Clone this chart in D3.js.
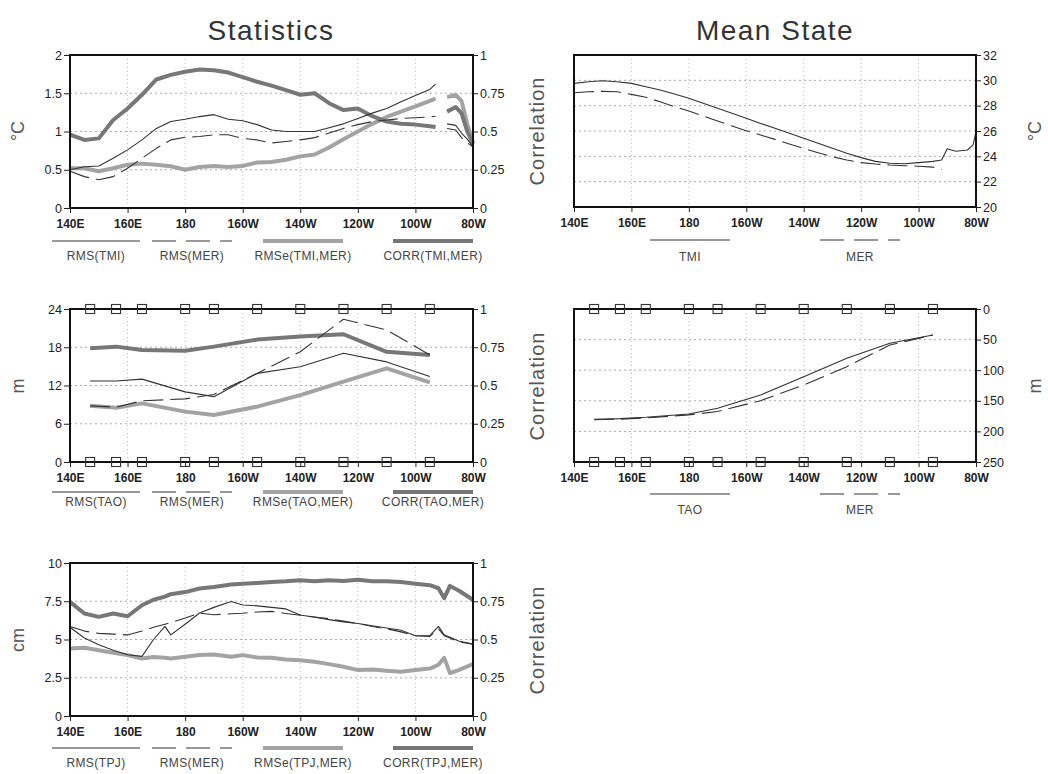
<!DOCTYPE html>
<html>
<head>
<meta charset="utf-8">
<script src="https://cdn.jsdelivr.net/npm/d3@7"></script>
<style>
body { margin: 0; background: #fff; }
text { font-family: "Liberation Sans", Arial, sans-serif; }
</style>
</head>
<body>
<div id="chart"></div>
<script>
// longitude axis (degrees east)
var xTicks = [140, 160, 180, 200, 220, 240, 260, 280];
var xTickLabels = ["140E", "160E", "180", "160W", "140W", "120W", "100W", "80W"];
var corrTicks = [0, 0.25, 0.5, 0.75, 1];
var corrTickLabels = ["0", "0.25", "0.5", "0.75", "1"];

// panel 1: SST statistics (TMI vs MER)
var sstStatTicks = [0, 0.5, 1, 1.5, 2];
var sstStatTickLabels = ["0", "0.5", "1", "1.5", "2"];
var lon1 = [140,145,150,155,160,165,170,175,180,185,190,195,200,205,210,215,220,225,230,235,240,245,250,255,260,265,267,269,271,274,276,278,280];
var rmsTMI  = [0.50,0.54,0.55,0.65,0.76,0.89,1.04,1.13,1.16,1.195,1.22,1.16,1.14,1.09,1.02,1.0,1.0,1.0,1.05,1.1,1.17,1.24,1.3,1.39,1.47,1.55,1.62,null,1.1,1.08,0.98,0.9,0.8];
var rmsMER1 = [0.48,0.41,0.37,0.41,0.52,0.65,0.78,0.89,0.925,0.935,0.957,0.957,0.91,0.89,0.85,0.87,0.89,0.92,0.98,1.04,1.09,1.13,1.15,1.17,1.18,1.19,1.2,null,1.04,1.02,0.92,0.85,0.8];
var rmseTMI = [0.52,0.52,0.48,0.52,0.565,0.58,0.565,0.545,0.50,0.535,0.55,0.535,0.55,0.595,0.6,0.63,0.675,0.7,0.79,0.9,1.0,1.1,1.19,1.26,1.33,1.4,1.43,null,1.45,1.48,1.40,1.1,0.85];
var corrTMI = [0.48,0.445,0.455,0.575,0.65,0.74,0.84,0.87,0.89,0.905,0.90,0.885,0.855,0.825,0.80,0.77,0.74,0.75,0.685,0.64,0.65,0.60,0.565,0.55,0.545,0.535,0.53,null,0.63,0.66,0.62,0.5,0.42];

// panel 2: thermocline depth statistics (TAO vs MER)
var z20StatTicks = [0, 6, 12, 18, 24];
var z20StatTickLabels = ["0", "6", "12", "18", "24"];
var taoLon = [147, 156, 165, 180, 190, 205, 220, 235, 250, 265];
var rmsTAO  = [12.7, 12.7, 13.0, 11.0, 10.25, 13.9, 14.95, 17.05, 15.7, 13.4];
var rmsMER2 = [8.8, 8.6, 9.6, 9.9, 10.6, 13.9, 17.3, 22.4, 20.7, 16.8];
var rmseTAO = [8.84, 8.52, 9.2, 7.9, 7.37, 8.68, 10.5, 12.6, 14.7, 12.5];
var corrTAO = [0.743, 0.754, 0.732, 0.727, 0.754, 0.80, 0.82, 0.835, 0.72, 0.70];

// panel 3: sea level statistics (TPJ vs MER)
var sshStatTicks = [0, 2.5, 5, 7.5, 10];
var sshStatTickLabels = ["0", "2.5", "5", "7.5", "10"];
var lon3 = [140,145,150,155,160,165,169,173,175,180,185,190,196,200,205,210,215,220,225,230,235,240,245,250,255,260,265,268,270,272,275,280];
var rmsTPJ  = [5.8,5.1,4.65,4.3,4.0,3.9,5.0,5.86,5.3,6.0,6.73,7.1,7.49,7.25,7.2,7.1,7.0,6.6,6.45,6.3,6.15,6.05,5.9,5.75,5.6,5.25,5.25,5.86,5.3,5.15,4.9,4.7];
var rmsMER3 = [5.85,5.55,5.4,5.35,5.3,5.55,5.8,6.0,6.1,6.4,6.73,6.62,6.68,6.72,6.8,6.84,6.7,6.58,6.47,6.36,6.2,6.05,5.85,5.7,5.5,5.25,5.2,5.7,5.25,5.1,4.85,4.7];
var rmseTPJ = [4.41,4.46,4.3,4.13,3.98,3.76,3.85,3.8,3.76,3.87,3.98,4.02,3.87,3.98,3.83,3.8,3.7,3.65,3.54,3.39,3.22,3.0,3.04,2.96,2.89,3.0,3.1,3.35,3.8,2.8,3.0,3.4];
var corrTPJ = [0.746,0.67,0.648,0.67,0.652,0.724,0.76,0.78,0.796,0.81,0.833,0.843,0.86,0.865,0.87,0.876,0.88,0.887,0.88,0.887,0.883,0.891,0.88,0.88,0.876,0.865,0.855,0.835,0.77,0.85,0.82,0.76];

// panel 4: mean SST
var sstTicks = [20, 22, 24, 26, 28, 30, 32];
var sstTickLabels = ["20", "22", "24", "26", "28", "30", "32"];
var lonSST = [140,145,150,155,160,165,170,175,180,185,190,195,200,205,210,215,220,225,230,235,240,245,250,255,260,265,268,270,273,277,279,280];
var sstTMI = [29.76,29.89,29.97,29.89,29.76,29.5,29.23,28.92,28.58,28.19,27.79,27.4,27.0,26.6,26.21,25.82,25.42,25.03,24.63,24.24,23.9,23.6,23.45,23.42,23.5,23.6,23.71,24.6,24.4,24.5,24.9,25.95];
var sstMER = [29.02,29.1,29.13,29.1,28.89,28.66,28.31,27.92,27.58,27.18,26.79,26.39,26.02,25.68,25.34,24.97,24.63,24.29,23.97,23.71,23.5,23.39,23.31,23.26,23.22,23.15,22.95,null,null,null,null,null];

// panel 5: mean 20C isotherm depth
var depthTicks = [0, 50, 100, 150, 200, 250];
var depthTickLabels = ["0", "50", "100", "150", "200", "250"];
var z20TAO = [180.3, 179.2, 177, 171.6, 162.3, 140.5, 110.6, 80.6, 56, 42.5];
var z20MER = [181, 180, 178, 173, 167.5, 149.8, 124.2, 94.2, 58.8, 42.5];

var titles = ["Statistics", "Mean State"];

var styles = {
    thin: { stroke: "#333", width: 1.1, dash: null },
    dash: { stroke: "#333", width: 1.1, dash: "20,7" },
    rmse: { stroke: "#a3a3a3", width: 4, dash: null },
    corr: { stroke: "#777", width: 4, dash: null }
};

var svg = d3.select("#chart").append("svg")
    .attr("width", 1048)
    .attr("height", 774);

svg.append("rect").attr("width", 1048).attr("height", 774).attr("fill", "#fff");

svg.append("text").attr("x", 271).attr("y", 40).attr("text-anchor", "middle")
    .attr("font-size", 28).attr("letter-spacing", 1.5).attr("fill", "#333").text(titles[0]);
svg.append("text").attr("x", 775).attr("y", 40).attr("text-anchor", "middle")
    .attr("font-size", 28).attr("letter-spacing", 1.5).attr("fill", "#333").text(titles[1]);

function vlabel(txt, x, y, size) {
    svg.append("text")
        .attr("transform", "translate(" + x + "," + y + ") rotate(-90)")
        .attr("text-anchor", "middle")
        .attr("dominant-baseline", "central")
        .attr("font-size", size)
        .attr("letter-spacing", size > 18 ? 1 : 0)
        .attr("fill", "#555")
        .text(txt);
}

function panel(p) {
    var w = p.x1 - p.x0, h = p.y1 - p.y0;
    var g = svg.append("g").attr("transform", "translate(" + p.x0 + "," + p.y0 + ")");

    var x = d3.scaleLinear().domain([140, 280]).range([0, w]);
    var yL = p.left ? d3.scaleLinear().domain(d3.extent(p.left.ticks)).range([h, 0]) : null;
    var yR = d3.scaleLinear().domain(d3.extent(p.right.ticks)).range(p.right.reverse ? [0, h] : [h, 0]);

    // dotted grid
    var gy = yL || yR, gt = (p.left || p.right).ticks;
    g.selectAll(".hg").data(gt.slice(1, -1)).enter().append("line")
        .attr("x1", 0).attr("x2", w)
        .attr("y1", d => gy(d)).attr("y2", d => gy(d))
        .attr("stroke", "#aaa").attr("stroke-dasharray", "2,3");
    g.selectAll(".vg").data(xTicks.slice(1, -1)).enter().append("line")
        .attr("x1", d => x(d)).attr("x2", d => x(d))
        .attr("y1", 0).attr("y2", h)
        .attr("stroke", "#bbb").attr("stroke-dasharray", "1,3");

    // series
    p.series.forEach(s => {
        var y = s.axis == "R" ? yR : yL;
        var st = styles[s.style];
        var line = d3.line()
            .defined(d => d[1] != null)
            .x(d => x(d[0]))
            .y(d => y(d[1]));
        g.append("path")
            .datum(d3.zip(s.lon, s.values))
            .attr("d", line)
            .attr("fill", "none")
            .attr("stroke", st.stroke)
            .attr("stroke-width", st.width)
            .attr("stroke-linejoin", "round")
            .attr("stroke-dasharray", st.dash);
    });

    // box
    g.append("rect").attr("width", w).attr("height", h)
        .attr("fill", "none").attr("stroke", "#111").attr("stroke-width", 2);

    // TAO mooring markers
    if (p.squares) {
        [0, h].forEach(yy => {
            g.selectAll(null).data(p.squares).enter().append("rect")
                .attr("x", d => x(d) - 4.5).attr("y", yy - 4.5)
                .attr("width", 9).attr("height", 9)
                .attr("fill", "none").attr("stroke", "#333").attr("stroke-width", 1.1);
        });
    }

    // axes
    var xa = g.append("g").attr("transform", "translate(0," + h + ")")
        .call(d3.axisBottom(x).tickValues(xTicks).tickFormat((d, i) => xTickLabels[i]).tickSize(5).tickPadding(6));
    xa.attr("font-family", "Liberation Sans, Arial, sans-serif").attr("font-size", 12).attr("font-weight", "bold");

    if (yL) {
        var la = g.append("g")
            .call(d3.axisLeft(yL).tickValues(p.left.ticks).tickFormat((d, i) => p.left.labels[i]).tickSize(6).tickPadding(2));
        la.attr("font-family", "Liberation Sans, Arial, sans-serif").attr("font-size", 12.5);
    }
    var ra = g.append("g").attr("transform", "translate(" + w + ",0)")
        .call(d3.axisRight(yR).tickValues(p.right.ticks).tickFormat((d, i) => p.right.labels[i]).tickSize(5).tickPadding(2));
    ra.attr("font-family", "Liberation Sans, Arial, sans-serif").attr("font-size", 12.5);

    g.selectAll(".domain").remove();
    g.selectAll(".tick line").attr("stroke", "#222");
    g.selectAll(".tick text").attr("fill", "#222");

    // legend
    p.legend.items.forEach(it => {
        var st = styles[it.style];
        svg.append("line")
            .attr("x1", it.x0).attr("x2", it.x1)
            .attr("y1", p.legend.y).attr("y2", p.legend.y)
            .attr("stroke", st.stroke)
            .attr("stroke-width", st.width)
            .attr("stroke-dasharray", it.style == "dash" ? "24,10" : null);
        svg.append("text")
            .attr("x", (it.x0 + it.x1) / 2).attr("y", p.legend.ty)
            .attr("text-anchor", "middle").attr("dominant-baseline", "central")
            .attr("font-size", 12).attr("letter-spacing", 0.4).attr("fill", "#444")
            .text(it.label);
    });
}

function statLegend(y, ty, names) {
    return {
        y: y, ty: ty,
        items: [
            { x0: 52, x1: 140, style: "thin", label: names[0] },
            { x0: 152, x1: 232, style: "dash", label: names[1] },
            { x0: 263, x1: 343, style: "rmse", label: names[2] },
            { x0: 393, x1: 473, style: "corr", label: names[3] }
        ]
    };
}

panel({
    x0: 70, x1: 473, y0: 55, y1: 208,
    left: { ticks: sstStatTicks, labels: sstStatTickLabels },
    right: { ticks: corrTicks, labels: corrTickLabels },
    series: [
        { lon: lon1, values: rmseTMI, style: "rmse", axis: "L" },
        { lon: lon1, values: corrTMI, style: "corr", axis: "R" },
        { lon: lon1, values: rmsMER1, style: "dash", axis: "L" },
        { lon: lon1, values: rmsTMI, style: "thin", axis: "L" }
    ],
    legend: statLegend(241, 256, ["RMS(TMI)", "RMS(MER)", "RMSe(TMI,MER)", "CORR(TMI,MER)"])
});

panel({
    x0: 70, x1: 473, y0: 309, y1: 462,
    left: { ticks: z20StatTicks, labels: z20StatTickLabels },
    right: { ticks: corrTicks, labels: corrTickLabels },
    squares: taoLon,
    series: [
        { lon: taoLon, values: rmseTAO, style: "rmse", axis: "L" },
        { lon: taoLon, values: corrTAO, style: "corr", axis: "R" },
        { lon: taoLon, values: rmsMER2, style: "dash", axis: "L" },
        { lon: taoLon, values: rmsTAO, style: "thin", axis: "L" }
    ],
    legend: statLegend(492, 502, ["RMS(TAO)", "RMS(MER)", "RMSe(TAO,MER)", "CORR(TAO,MER)"])
});

panel({
    x0: 70, x1: 473, y0: 563, y1: 716,
    left: { ticks: sshStatTicks, labels: sshStatTickLabels },
    right: { ticks: corrTicks, labels: corrTickLabels },
    series: [
        { lon: lon3, values: rmseTPJ, style: "rmse", axis: "L" },
        { lon: lon3, values: corrTPJ, style: "corr", axis: "R" },
        { lon: lon3, values: rmsMER3, style: "dash", axis: "L" },
        { lon: lon3, values: rmsTPJ, style: "thin", axis: "L" }
    ],
    legend: statLegend(748, 763, ["RMS(TPJ)", "RMS(MER)", "RMSe(TPJ,MER)", "CORR(TPJ,MER)"])
});

panel({
    x0: 574, x1: 976, y0: 55, y1: 207,
    right: { ticks: sstTicks, labels: sstTickLabels },
    series: [
        { lon: lonSST, values: sstMER, style: "dash", axis: "R" },
        { lon: lonSST, values: sstTMI, style: "thin", axis: "R" }
    ],
    legend: { y: 240, ty: 257, items: [
        { x0: 650, x1: 730, style: "thin", label: "TMI" },
        { x0: 820, x1: 900, style: "dash", label: "MER" }
    ] }
});

panel({
    x0: 574, x1: 976, y0: 309, y1: 462,
    right: { ticks: depthTicks, labels: depthTickLabels, reverse: true },
    squares: taoLon,
    series: [
        { lon: taoLon, values: z20MER, style: "dash", axis: "R" },
        { lon: taoLon, values: z20TAO, style: "thin", axis: "R" }
    ],
    legend: { y: 494, ty: 510, items: [
        { x0: 650, x1: 730, style: "thin", label: "TAO" },
        { x0: 820, x1: 900, style: "dash", label: "MER" }
    ] }
});

// axis titles
vlabel("°C", 18, 131, 18);
vlabel("m", 18, 386, 18);
vlabel("cm", 18, 640, 18);
vlabel("Correlation", 537, 131, 20);
vlabel("Correlation", 537, 386, 20);
vlabel("Correlation", 537, 640, 20);
vlabel("°C", 1035, 131, 18);
vlabel("m", 1035, 386, 18);
</script>
</body>
</html>
